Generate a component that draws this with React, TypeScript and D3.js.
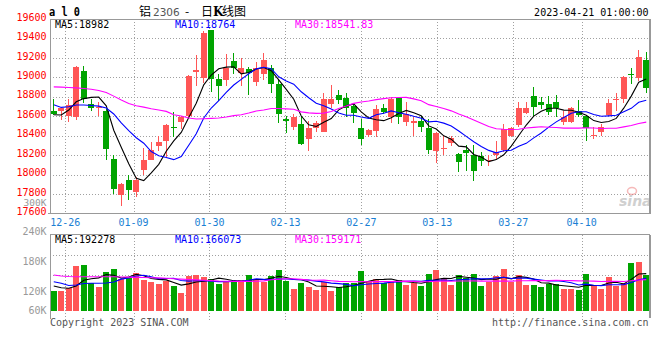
import * as d3 from 'd3';

// trading days shown (index 0 .. 79)
const dates = [
  '12-22', '12-23', '12-26', '12-27', '12-28', '12-29', '12-30', '01-03', '01-04', '01-05',
  '01-06', '01-09', '01-10', '01-11', '01-12', '01-13', '01-16', '01-17', '01-18', '01-19',
  '01-20', '01-30', '01-31', '02-01', '02-02', '02-03', '02-06', '02-07', '02-08', '02-09',
  '02-10', '02-13', '02-14', '02-15', '02-16', '02-17', '02-20', '02-21', '02-22', '02-23',
  '02-24', '02-27', '02-28', '03-01', '03-02', '03-03', '03-06', '03-07', '03-08', '03-09',
  '03-10', '03-13', '03-14', '03-15', '03-16', '03-17', '03-20', '03-21', '03-22', '03-23',
  '03-24', '03-27', '03-28', '03-29', '03-30', '03-31', '04-03', '04-04', '04-06', '04-07',
  '04-10', '04-11', '04-12', '04-13', '04-14', '04-17', '04-18', '04-19', '04-20', '04-21'
];

const opens = [
  18657, 18650, 18606, 18589, 19066, 18725, 18684, 18657, 18162, 17788,
  17948, 17822, 18043, 18145, 18299, 18350, 18493, 18537, 18606, 19059,
  18998, 19482, 18981, 18970, 19168, 19042, 19083, 18957, 19032, 19093,
  18929, 18572, 18493, 18520, 18367, 18480, 18435, 18725, 18820, 18786,
  18708, 18480, 18411, 18445, 18684, 18589, 18786, 18537, 18531, 18555,
  18476, 18241, 18261, 18323, 18214, 18248, 18197, 18190, 18135, 18197,
  18248, 18394, 18514, 18633, 18810, 18742, 18725, 18749, 18544, 18537,
  18657, 18606, 18405, 18435, 18616, 18762, 18776, 19039, 18998, 19178
];
const highs = [
  18776, 18681, 18780, 19117, 19117, 18776, 18742, 18674, 18197, 17917,
  17992, 17975, 18272, 18333, 18401, 18520, 18640, 18606, 19025, 19229,
  19475, 19482, 19039, 19236, 19246, 19195, 19107, 19161, 19246, 19127,
  18981, 18606, 18623, 18606, 18555, 18555, 18844, 18923, 18872, 18844,
  18725, 18572, 18469, 18715, 18725, 18800, 18800, 18742, 18589, 18606,
  18572, 18435, 18401, 18401, 18220, 18306, 18309, 18231, 18197, 18350,
  18520, 18493, 18749, 18749, 18896, 18800, 18810, 18820, 18657, 18691,
  18766, 18612, 18486, 18520, 18776, 18834, 19015, 19100, 19277, 19263
];
const lows = [
  18616, 18565, 18537, 18561, 18732, 18650, 18606, 18152, 17805, 17675,
  17736, 17770, 17992, 18145, 18241, 18180, 18384, 18469, 18589, 18912,
  18947, 18851, 18759, 18912, 19032, 18912, 18820, 18912, 18970, 18844,
  18527, 18425, 18459, 18309, 18241, 18435, 18435, 18684, 18725, 18595,
  18527, 18309, 18384, 18384, 18623, 18527, 18520, 18503, 18401, 18442,
  18214, 18118, 18197, 18289, 18026, 18036, 17934, 18087, 18087, 18162,
  18231, 18384, 18493, 18623, 18599, 18674, 18612, 18589, 18510, 18527,
  18589, 18343, 18367, 18401, 18599, 18657, 18732, 18930, 18964, 18844
];
const closes = [
  18623, 18681, 18718, 19110, 18776, 18684, 18698, 18265, 17856, 17900,
  17839, 17948, 18152, 18248, 18340, 18514, 18476, 18589, 19015, 19076,
  19458, 18981, 18912, 19100, 19093, 19093, 19049, 19093, 19178, 18929,
  18623, 18555, 18589, 18316, 18480, 18531, 18776, 18776, 18766, 18684,
  18630, 18367, 18462, 18674, 18640, 18776, 18589, 18623, 18548, 18486,
  18258, 18428, 18272, 18377, 18128, 18220, 18036, 18139, 18145, 18231,
  18469, 18480, 18684, 18684, 18691, 18715, 18640, 18681, 18589, 18684,
  18612, 18480, 18411, 18493, 18732, 18773, 19005, 19032, 19209, 18895
];
const volumes = [
  102800, 102800, 116700, 232800, 236400, 141400, 124400, 200500, 216900, 162900,
  168100, 196300, 159300, 150100, 138800, 155200, 128500, 93500, 180900, 185000,
  174800, 164500, 138800, 150600, 150600, 159300, 185000, 164500, 150600, 179900,
  210700, 155700, 113100, 142400, 123400, 107900, 147500, 102800, 121800, 142400,
  142400, 205600, 154200, 164500, 145500, 150600, 159300, 133600, 142400, 128500,
  190200, 210700, 171200, 133600, 185000, 168100, 190200, 128500, 150600, 179900,
  215900, 150600, 185000, 133600, 133600, 124900, 138800, 138800, 113100, 113100,
  107900, 190200, 130000, 113100, 176300, 128500, 145500, 248300, 253400, 185000
];

// moving-average values before a full window exists
const ma5Head = [18616, 18613, 18664, 18749];
const ma10Head = [18718, 18691, 18698, 18715, 18715, 18711, 18704, 18684, 18623];
const ma30Head = [
  18902, 18899, 18895, 18892, 18885, 18878, 18865, 18844, 18807, 18766,
  18732, 18708, 18694, 18677, 18664, 18650, 18616, 18602, 18582, 18572,
  18575, 18578, 18582, 18592, 18606, 18616, 18633, 18654, 18664
];
const volMa5Head = [128500, 119800, 116700, 128500];
const volMa10Head = [150600, 142400, 131100, 133600, 141400, 142400, 142400, 143900, 149000];
const volMa30Head = [
  185000, 180000, 177000, 176000, 176000, 176000, 176000, 176000, 176000, 175000,
  174000, 173000, 172000, 171000, 170000, 168000, 166000, 164000, 162000, 160000,
  158000, 156000, 154000, 153000, 152000, 152000, 152000, 153000, 155000
];

const tickDates = ['12-26', '01-09', '01-30', '02-13', '02-27', '03-13', '03-27', '04-10'];
const priceTicks = [19600, 19400, 19200, 19000, 18800, 18600, 18400, 18200, 18000, 17800, 17600];
const volTickValues = [300000, 240000, 180000, 120000, 60000];
const volTickLabels = ['300K', '240K', '180K', '120K', '60K'];
const priceMaLabels = ['MA5:18982', 'MA10:18764', 'MA30:18541.83'];
const volMaLabels = ['MA5:192278', 'MA10:166073', 'MA30:159171'];

const MONO = "'DejaVu Sans Mono', monospace";
const RED = '#ff5656';
const GREEN = '#00a400';
const MA_COLORS = ['#000000', '#0000ff', '#ff00ff'];
const GRID = '#a0a0a0';

function movingAverage(values: number[], n: number, head: number[]) {
  return values.map((_, i) => (i >= n - 1 ? (d3.mean(values.slice(i - n + 1, i + 1)) as number) : head[i]));
}

export default function App() {
  const left = 50;
  const right = 650;
  const priceTop = 19;
  const priceBottom = 213.5;
  const volTop = 235;
  const volBase = 311;

  const idx = d3.range(dates.length);
  const x = d3.scaleBand<number>().domain(idx).range([left, right]).paddingInner(0.2).paddingOuter(0.1);
  const cx = (i: number) => (x(i) as number) + x.bandwidth() / 2;
  const xGrid = d3.scalePoint<string>().domain(dates).range([left, right]);

  const yP = d3.scaleLinear().domain([17600, 19600]).range([priceBottom, priceTop]);
  const yV = d3.scaleLinear().domain([0, 390000]).range([volBase, 235.1]);
  const yVolLabel = d3.scaleLinear().domain([300000, 120000]).range([205.5, 294.6]);

  const priceMas = [movingAverage(closes, 5, ma5Head), movingAverage(closes, 10, ma10Head), movingAverage(closes, 30, ma30Head)];
  const volMas = [movingAverage(volumes, 5, volMa5Head), movingAverage(volumes, 10, volMa10Head), movingAverage(volumes, 30, volMa30Head)];

  const priceLine = d3.line<number>().x((_, i) => cx(i)).y(v => yP(v));
  const volLine = d3.line<number>().x((_, i) => cx(i)).y(v => yV(v));

  const snap = (v: number) => Math.round(v) + 0.5;
  const volGridYs = [255, 275, 295];

  return (
    <svg width={660} height={360} style={{ position: 'absolute', left: 0, top: 0, background: '#fff' }}>
      <rect x={0} y={0} width={660} height={360} fill="#fff" />

      {/* header */}
      <text x={49} y={16} fontFamily={MONO} fontSize={12} fontWeight="bold" fill="#000"
        textLength={31} lengthAdjust="spacingAndGlyphs">a l 0</text>
      <text y={16} fontFamily="'Noto Sans CJK SC', sans-serif" fontSize={12} fill="#000">
        <tspan x={139}>铝</tspan>
        <tspan x={153} fontFamily="'DejaVu Sans', sans-serif" fontSize={10.5} fill="#555">2306</tspan>
        <tspan x={185}>-</tspan>
        <tspan x={201}>日</tspan>
        <tspan x={213} fontFamily="'DejaVu Serif', serif" fontWeight="bold">K</tspan>
        <tspan x={222}>线图</tspan>
      </text>
      <text x={648.5} y={16} textAnchor="end" fontFamily={MONO} fontSize={10} fill="#000">2023-04-21 01:00:00</text>

      {/* price grid */}
      {priceTicks.filter(t => t > 17600 && t < 19600).map(t => (
        <line key={'pg' + t} x1={left} x2={right} y1={snap(yP(t))} y2={snap(yP(t))}
          stroke={GRID} strokeDasharray="1,2" shapeRendering="crispEdges" />
      ))}
      {tickDates.map(d => (
        <line key={'vg' + d} x1={snap(xGrid(d) as number)} x2={snap(xGrid(d) as number)} y1={priceTop} y2={priceBottom}
          stroke={GRID} strokeDasharray="1,2" shapeRendering="crispEdges" />
      ))}

      {/* sina watermark */}
      <g opacity={0.55}>
        <ellipse cx={632} cy={191} rx={4.5} ry={3.5} fill="none" stroke="#f08080" strokeWidth={1.5} />
        <text x={619} y={206} fontFamily="'DejaVu Sans', sans-serif" fontStyle="italic" fontWeight="bold" fontSize={14} fill="#aaa">sina</text>
      </g>

      {/* candles */}
      {idx.map(i => {
        const up = closes[i] >= opens[i];
        const color = up ? RED : GREEN;
        const top = yP(Math.max(opens[i], closes[i]));
        const bot = yP(Math.min(opens[i], closes[i]));
        return (
          <g key={'c' + i} shapeRendering="crispEdges">
            <line x1={cx(i)} x2={cx(i)} y1={yP(highs[i])} y2={yP(lows[i])} stroke={color} />
            <rect x={x(i)} y={top} width={x.bandwidth()} height={Math.max(1, bot - top)} fill={color} />
          </g>
        );
      })}

      {/* price moving averages */}
      {priceMas.map((m, k) => (
        <path key={'pm' + k} d={priceLine(m) as string} fill="none" stroke={MA_COLORS[k]} strokeWidth={1.1} />
      ))}

      {/* price frame */}
      <g stroke="#999" shapeRendering="crispEdges" fill="none">
        <line x1={left} x2={right} y1={priceTop} y2={priceTop} />
        <line x1={left} x2={left} y1={priceTop} y2={priceBottom} />
        <line x1={left - 2} x2={right} y1={priceBottom} y2={priceBottom} />
        <line x1={right - 0.5} x2={right - 0.5} y1={priceTop} y2={priceBottom} strokeWidth={2} />
      </g>

      {/* price labels */}
      {priceTicks.map(t => (
        <text key={'pl' + t} x={46.5} y={yP(t) + 1.6} textAnchor="end" fontFamily={MONO} fontSize={10} fill="#ff0000">{t}</text>
      ))}
      {priceMaLabels.map((s, k) => (
        <text key={'pml' + k} x={55 + k * 120} y={27.5} fontFamily={MONO} fontSize={10} fill={MA_COLORS[k]}>{s}</text>
      ))}

      {/* date labels */}
      {tickDates.map(d => (
        <text key={'dl' + d} x={xGrid(d) as number} y={225.8} textAnchor="middle" fontFamily={MONO} fontSize={10} fill="#1a7fd4">{d}</text>
      ))}

      {/* volume grid */}
      {volGridYs.map(y => (
        <line key={'vgy' + y} x1={left} x2={right} y1={y + 0.5} y2={y + 0.5}
          stroke={GRID} strokeDasharray="1,2" shapeRendering="crispEdges" />
      ))}
      {tickDates.map(d => (
        <line key={'vvg' + d} x1={snap(xGrid(d) as number)} x2={snap(xGrid(d) as number)} y1={volTop} y2={320}
          stroke={GRID} strokeDasharray="1,2" shapeRendering="crispEdges" />
      ))}

      {/* volume bars */}
      {idx.map(i => (
        <rect key={'v' + i} x={x(i)} y={yV(volumes[i])} width={x.bandwidth()} height={volBase - yV(volumes[i])}
          fill={closes[i] >= opens[i] ? RED : GREEN} shapeRendering="crispEdges" />
      ))}

      {/* volume moving averages */}
      {volMas.map((m, k) => (
        <path key={'vm' + k} d={volLine(m) as string} fill="none" stroke={MA_COLORS[k]} strokeWidth={1.1} />
      ))}

      {/* volume frame */}
      <g stroke="#999" shapeRendering="crispEdges" fill="none">
        <line x1={left} x2={right} y1={volTop - 0.5} y2={volTop - 0.5} />
        <line x1={left} x2={left} y1={volTop - 0.5} y2={319} />
        <line x1={right - 0.5} x2={right - 0.5} y1={volTop - 0.5} y2={318} strokeWidth={2} />
      </g>

      {/* volume labels */}
      {volTickValues.map((v, k) => (
        <text key={'vl' + v} x={46.5} y={Math.min(yVolLabel(v), 314)} textAnchor="end" fontFamily={MONO}
          fontSize={k === 0 ? 9.5 : 10} fill="#999">
          {volTickLabels[k]}
        </text>
      ))}
      {volMaLabels.map((s, k) => (
        <text key={'vml' + k} x={55 + k * 120} y={242.5} fontFamily={MONO} fontSize={10} fill={MA_COLORS[k]}>{s}</text>
      ))}

      {/* footer */}
      <text x={50} y={326} fontFamily={MONO} fontSize={10} fill="#555">Copyright 2023 SINA.COM</text>
      <text x={648.5} y={326} textAnchor="end" fontFamily={MONO} fontSize={10} fill="#555">http://finance.sina.com.cn</text>
    </svg>
  );
}
